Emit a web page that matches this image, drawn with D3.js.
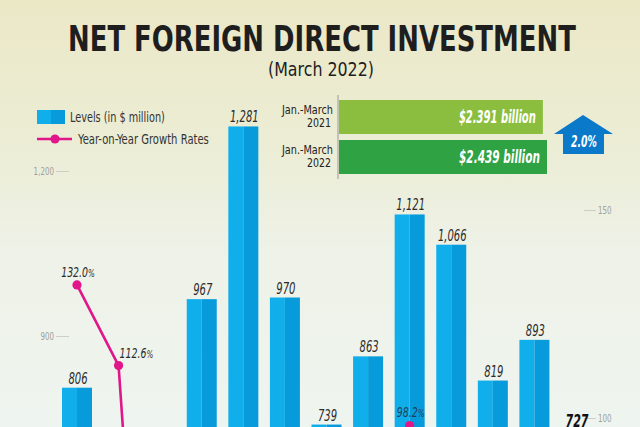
<!DOCTYPE html>
<html><head><meta charset="utf-8">
<script src="https://cdn.jsdelivr.net/npm/d3@7/dist/d3.min.js"></script>
<style>
html,body{margin:0;padding:0;overflow:hidden;background:#eef2e6;}
text{font-family:"Liberation Sans Narrow","DejaVu Sans Condensed","Liberation Sans",sans-serif;}
</style></head>
<body>
<svg id="c" width="640" height="427"></svg>
<script>
// ---------- data ----------
const months = ["Mar 2021","Apr 2021","May 2021","Jun 2021","Jul 2021","Aug 2021","Sep 2021","Oct 2021","Nov 2021","Dec 2021","Jan 2022","Feb 2022","Mar 2022"];
const levels = [806, 568, 530, 967, 1281, 970, 739, 863, 1121, 1066, 819, 893, 727];
const growth = [132.0, 112.6, -31.5, 70.0, 45.0, 60.0, 30.0, 40.0, 98.2, 20.0, 5.6, 40.0, -9.8];
const leftTicks = [900, 1200];
const rightTicks = [100, 150];
const summaryLabels = [["Jan.-March","2021"],["Jan.-March","2022"]];
const summaryValues = [2.391, 2.439];
const summaryText = ["$2.391 billion","$2.439 billion"];
const summaryChange = "2.0%";

const W = 640, H = 427;
const svg = d3.select("#c");
const defs = svg.append("defs");
const bg = defs.append("linearGradient").attr("id","bg").attr("x1",0).attr("y1",0).attr("x2",0).attr("y2",1);
[[0,"#ebe8c6"],[0.35,"#ecedd6"],[0.6,"#eef2e8"],[1,"#eef4ef"]].forEach(([o,c])=>bg.append("stop").attr("offset",o).attr("stop-color",c));
svg.append("rect").attr("width",W).attr("height",H).attr("fill","url(#bg)");

// place a text so that it spans a given width (squeezed horizontally)
function fitText(g, str, x, y, width, anchor, attrs){
  const t = g.append("text").text(str);
  Object.entries(attrs).forEach(([k,v])=>t.attr(k,v));
  const nat = t.node().getComputedTextLength();
  const s = width / nat;
  const x0 = anchor==="middle" ? x - width/2 : anchor==="end" ? x - width : x;
  t.attr("transform",`translate(${x0},${y}) scale(${s},1)`);
  return t;
}

// ---------- scales ----------
const x = d3.scalePoint().domain(months).range([77, 576]);
const yL = d3.scaleLinear().domain([0, 1200]).range([831, 171]);
const yR = d3.scaleLinear().domain([100, 150]).range([418, 210]);
const barW = 30;
const SX = 0.72; // horizontal squeeze to emulate a narrow face

// ---------- title ----------
fitText(svg,"NET FOREIGN DIRECT INVESTMENT",322,51,508,"middle",{"font-size":35,"font-weight":"bold","fill":"#1e1e1e"});
fitText(svg,"(March 2022)",321,76,106,"middle",{"font-size":19,"fill":"#1e1e1e"});

// ---------- axes ----------
const axL = svg.append("g").attr("transform","translate(69,0)")
  .call(d3.axisLeft(yL).tickValues(leftTicks).tickSize(13).tickPadding(2).tickFormat(d3.format(",")));
const axR = svg.append("g").attr("transform","translate(584,0)")
  .call(d3.axisRight(yR).tickValues(rightTicks).tickSize(12).tickPadding(2));
[[axL,-15],[axR,14]].forEach(([a,off])=>{
  a.select(".domain").remove();
  a.selectAll("line").attr("stroke","#c4c4c0").attr("stroke-width",0.8);
  a.selectAll("text").attr("fill","#a0a09c").attr("font-size",11)
   .attr("x",0).attr("transform",`translate(${off},0) scale(0.72,1)`);
});

// ---------- bars ----------
const bars = svg.append("g");
bars.selectAll("rect.l").data(levels).join("rect").attr("class","l")
  .attr("x",(d,i)=>x(months[i])-barW/2).attr("y",d=>yL(d))
  .attr("width",barW/2).attr("height",d=>yL(0)-yL(d)).attr("fill","#10afeb");
bars.selectAll("rect.r").data(levels).join("rect").attr("class","r")
  .attr("x",(d,i)=>x(months[i])).attr("y",d=>yL(d))
  .attr("width",barW/2).attr("height",d=>yL(0)-yL(d)).attr("fill","#079bdc");

const last = levels.length-1;
const barLab = levels.map((v,i)=>({v,i,x:x(months[i])+1,y:yL(v)-4}));
svg.append("g").selectAll("text").data(barLab).join("text")
  .attr("transform",d=>`translate(${d.x},${d.y}) scale(${SX},1)`)
  .attr("text-anchor","middle").attr("font-style","italic")
  .attr("font-size",d=>d.i===last?17:15.5)
  .attr("font-weight",d=>d.i===last?"bold":"normal")
  .attr("fill",d=>d.i===last?"#111":"#2b2b2b")
  .text(d=>d3.format(",")(d.v));

// ---------- growth line ----------
const lineGen = d3.line().x((d,i)=>x(months[i])).y(d=>yR(d));
svg.append("path").datum(growth).attr("d",lineGen)
  .attr("fill","none").attr("stroke","#e0168a").attr("stroke-width",2.6);
svg.append("g").selectAll("circle").data(growth).join("circle")
  .attr("cx",(d,i)=>x(months[i])).attr("cy",d=>yR(d)).attr("r",4.6).attr("fill","#e0168a");
const gLab = growth.map((v,i)=>({v,i,x:x(months[i])+1,y:yR(v)-8}));
const gl = svg.append("g").selectAll("text").data(gLab).join("text")
  .attr("transform",d=>`translate(${d.x},${d.y}) scale(${SX},1)`)
  .attr("text-anchor",d=> d.i===1 ? "start" : "middle")
  .attr("font-style","italic").attr("font-size",14.5)
  .attr("fill",d=> d.i<=1 ? "#2b2b2b" : "#1d4058");
gl.append("tspan").text(d=>d.v.toFixed(1));
gl.append("tspan").attr("font-size",11).text("%");

// ---------- legend ----------
const lg = svg.append("g");
lg.append("rect").attr("x",37).attr("y",110).attr("width",14).attr("height",14).attr("fill","#10afeb");
lg.append("rect").attr("x",51).attr("y",110).attr("width",14).attr("height",14).attr("fill","#079bdc");
fitText(lg,"Levels (in $ million)",70,122,95,"start",{"font-size":14.5,"fill":"#333"});
lg.append("line").attr("x1",37).attr("x2",72).attr("y1",139).attr("y2",139).attr("stroke","#e0168a").attr("stroke-width",2.6);
lg.append("circle").attr("cx",55).attr("cy",139).attr("r",4.6).attr("fill","#e0168a");
fitText(lg,"Year-on-Year Growth Rates",78,144,131,"start",{"font-size":14.5,"fill":"#333"});

// ---------- summary box ----------
const xs = d3.scaleLinear().domain([0, d3.max(summaryValues)]).range([338, 547]);
const sy = [100, 140], sh = 34;
const sColors = ["#8bbe3e","#2fa244"];
const txtW = [77, 81];
svg.append("line").attr("x1",338).attr("x2",338).attr("y1",95).attr("y2",179).attr("stroke","#9a9a94").attr("stroke-width",1);
summaryValues.forEach((v,i)=>{
  svg.append("rect").attr("x",xs(0)+1).attr("y",sy[i]).attr("width",xs(v)-xs(0)-1).attr("height",sh).attr("fill",sColors[i]);
  fitText(svg,summaryText[i],xs(v)-7,sy[i]+23,txtW[i],"end",
    {"font-size":17,"font-weight":"bold","font-style":"italic","fill":"#fff"});
  fitText(svg,summaryLabels[i][0],333,sy[i]+14,51,"end",{"font-size":11.5,"fill":"#222"});
  fitText(svg,summaryLabels[i][1],331,sy[i]+27,24,"end",{"font-size":11.5,"fill":"#222"});
});
// arrow
svg.append("polygon").attr("points","583,115 613,134 604,134 604,154 563,154 563,134 554,134").attr("fill","#0b79c9");
fitText(svg,summaryChange,584,146.5,26,"middle",
  {"font-size":15.5,"font-weight":"bold","font-style":"italic","fill":"#fff"});
</script>
</body></html>
